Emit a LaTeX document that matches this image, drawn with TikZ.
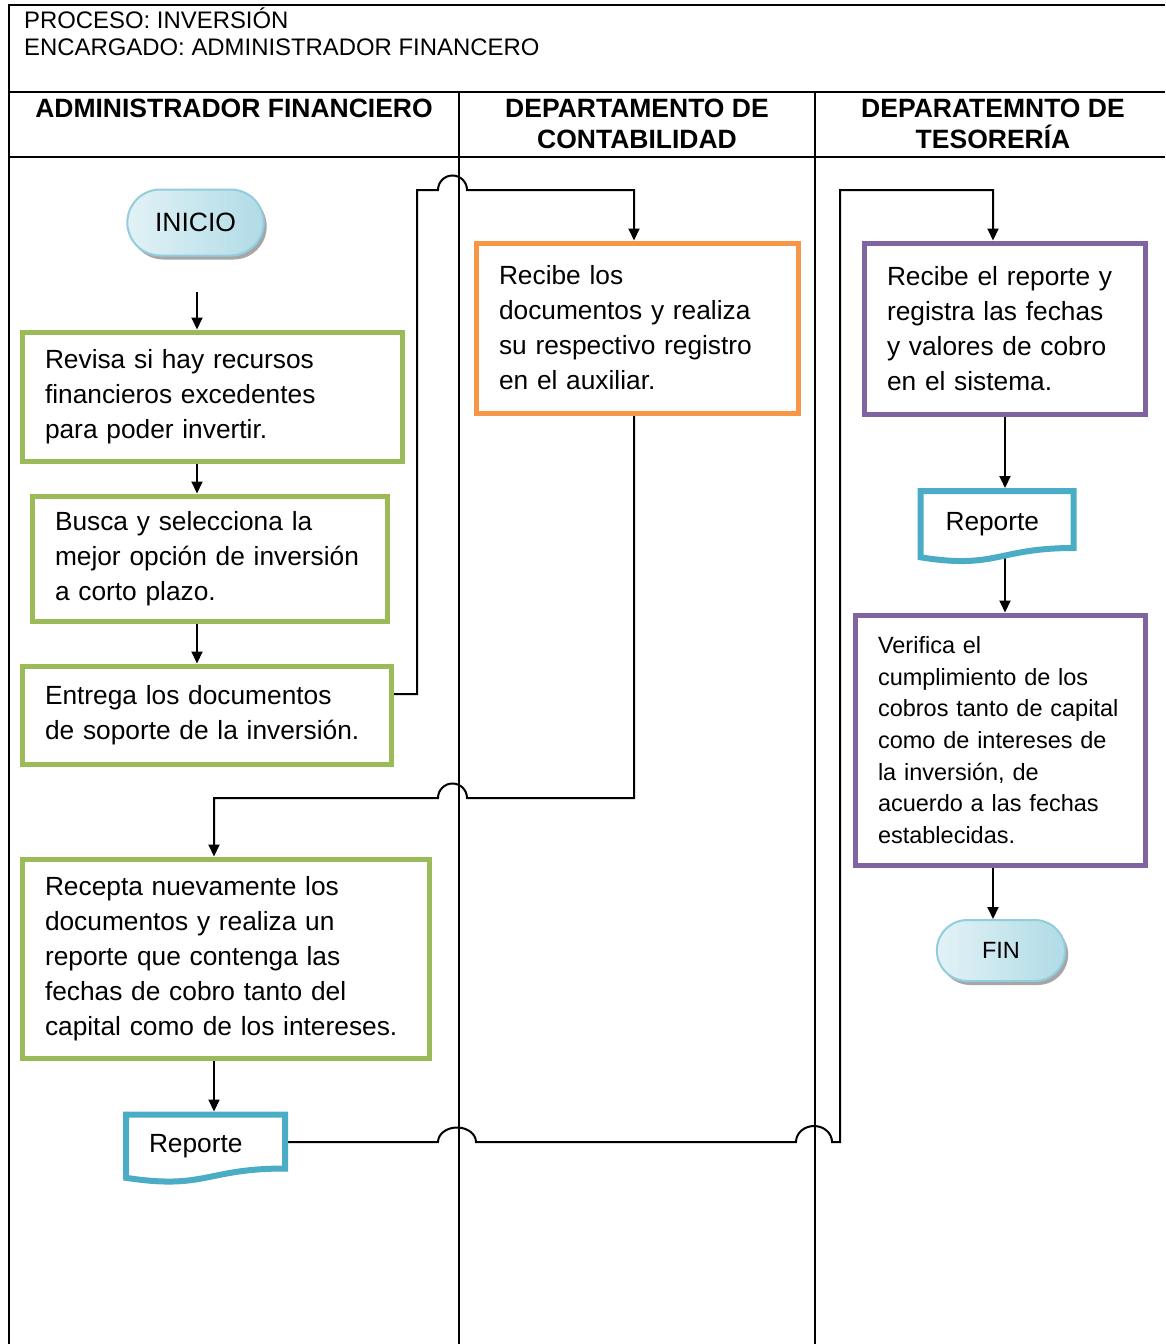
\documentclass[tikz,border=0pt]{standalone}
\usepackage{fontspec}
\setmainfont{Liberation Sans}
\usetikzlibrary{arrows.meta,calc,shapes.misc,shadows}

\definecolor{stepgreen}{HTML}{9BBB59}
\definecolor{steporange}{HTML}{F79646}
\definecolor{steppurple}{HTML}{8064A2}
\definecolor{docblue}{HTML}{4BACC6}
\definecolor{pillline}{HTML}{93CDDD}
\definecolor{pilllight}{HTML}{E2F2F6}
\definecolor{pilldark}{HTML}{B0DBE6}

\newcommand\bodyfont{\fontsize{26.3}{35}\selectfont\hyphenpenalty=10000 }
\newcommand\smallbody{\fontsize{23.5}{31.7}\selectfont\hyphenpenalty=10000 }
\newcommand\headfont{\fontsize{23.9}{27}\selectfont}
\newcommand\lanefont{\fontsize{26.5}{31}\selectfont\bfseries}

% outline of a document symbol around a text node
\newcommand\docoutline[1]{%
  \draw[doc] (#1.north west) -- (#1.north east) -- (#1.south east)
    .. controls (#1.south) and ($(#1.south)+(0,21.5)$) .. ($(#1.south west)+(0,9.3)$) -- cycle;}

\pgfdeclarelayer{lanes}
\pgfdeclarelayer{links}
\pgfdeclarelayer{docs}
\pgfsetlayers{lanes,links,docs,main}

\begin{document}
\begin{tikzpicture}[x=1pt,y=-1pt,
  frame/.style={line width=2.3pt},
  flow/.style={line width=2pt,-{Triangle[length=12pt,width=11pt]}},
  stepbox/.style={draw=#1, line width=5pt, inner xsep=23pt, inner ysep=0pt,
    align=left, font=\bodyfont},
  pill/.style={rounded rectangle, draw=pillline, line width=2pt,
    left color=pilllight, right color=pilldark,
    drop shadow={shadow xshift=3pt,shadow yshift=-4pt,fill=black!35,opacity=1}},
  docnode/.style={outer sep=0pt, inner xsep=23pt, inner ysep=0pt, align=left,
    font=\bodyfont, text width=#1, text height=24pt, text depth=2.5pt},
  doc/.style={draw=docblue, fill=white, line width=6pt, line join=miter},
  headtext/.style={inner sep=0pt, font=\headfont, anchor=base west},
  lanetext/.style={inner sep=0pt, font=\lanefont, anchor=base},
]

\useasboundingbox (0,0) rectangle (1165,1344);

% page frame and swimlanes
\begin{pgfonlayer}{lanes}
  \draw[frame] (9,1344) -- (9,5) -- (1165,5);
  \draw[frame] (9,92) -- (1165,92);
  \draw[frame] (9,157) -- (1165,157);
  \draw[frame] (459,92) -- (459,1344);
  \draw[frame] (815,92) -- (815,1344);
\end{pgfonlayer}

% header
\node[headtext] (proc) at (24,28) {PROCESO: INVERSIÓN};
\node[headtext] (enc) at (24,55) {ENCARGADO: ADMINISTRADOR FINANCERO};

\node[lanetext] (laneA)  at (234,117.5) {ADMINISTRADOR FINANCIERO};
\node[lanetext] (laneB1) at (637,117.5) {DEPARTAMENTO DE};
\node[lanetext] (laneB2) at (637,148.5) {CONTABILIDAD};
\node[lanetext] (laneC1) at (993,117.5) {DEPARATEMNTO DE};
\node[lanetext] (laneC2) at (993,148.5) {TESORERÍA};

% terminators
\node[pill, minimum width=143pt, minimum height=66pt, font=\fontsize{26.5}{30}\selectfont]
  (inicio) at (195.5,222.5) {INICIO};
\node[pill, minimum width=135pt, minimum height=61pt, font=\fontsize{23.5}{28}\selectfont]
  (fin) at (1001,950.5) {FIN};

% process steps
\node[stepbox=stepgreen, text width=334pt, minimum height=129pt] (revisa) at (212,396.5)
  {Revisa si hay recursos\\financieros excedentes\\para poder invertir.};
\node[stepbox=stepgreen, text width=309pt, minimum height=125pt] (busca) at (209.5,558.5)
  {Busca y selecciona la\\mejor opción de inversión\\a corto plazo.};
\node[stepbox=stepgreen, text width=323pt, minimum height=98pt] (entrega) at (206.5,715)
  {Entrega los documentos\\de soporte de la inversión.};
\node[stepbox=steporange, text width=276pt, minimum height=170pt] (recibe) at (637,328)
  {Recibe los\\documentos y realiza\\su respectivo registro\\en el auxiliar.};
\node[stepbox=stepgreen, text width=361pt, minimum height=199pt] (recepta) at (225.5,958.5)
  {Recepta nuevamente los\\documentos y realiza un\\reporte que contenga las\\fechas de cobro tanto del\\capital como de los intereses.};
\node[stepbox=steppurple, text width=235pt, minimum height=171pt] (registra) at (1004.5,328.5)
  {Recibe el reporte y\\registra las fechas\\y valores de cobro\\en el sistema.};
\node[stepbox=steppurple, text width=244pt, minimum height=250pt, font=\smallbody] (verifica) at (1000,740)
  {Verifica el\\cumplimiento de los\\cobros tanto de capital\\como de intereses de\\la inversión, de\\acuerdo a las fechas\\establecidas.};

% documents
\node[docnode=113pt, minimum height=54pt] (rep1) at (205.5,1141.5) {Reporte};
\node[docnode=103pt, minimum height=57pt, inner xsep=25pt] (rep2) at (997,519.5) {Reporte};
\begin{pgfonlayer}{docs}
  \docoutline{rep1}
  \docoutline{rep2}
\end{pgfonlayer}

% connectors
\begin{pgfonlayer}{links}
  \coordinate (colA) at (197,292);
  \draw[flow] (colA) -- (colA |- revisa.north);
  \draw[flow] (revisa.south -| colA) -- (colA |- busca.north);
  \draw[flow] (busca.south -| colA) -- (colA |- entrega.north);

  \coordinate (e1) at (417,694);
  \coordinate (e2) at (417,190);
  \coordinate (e3) at (634,190);
  \draw[flow] (entrega.east |- e1) -- (e1) -- (e2) -- (438,190)
    arc[start angle=180, end angle=0, x radius=14.5pt, y radius=14.5pt]
    -- (e3) -- (e3 |- recibe.north);

  \coordinate (r1) at (634,798);
  \coordinate (r2) at (214,798);
  \draw[flow] (recibe.south -| r1) -- (r1) -- (467,798)
    arc[start angle=0, end angle=180, x radius=14.5pt, y radius=14.5pt]
    -- (r2) -- (r2 |- recepta.north);

  \draw[flow, shorten >=3pt] (recepta.south -| r2) -- (r2 |- rep1.north);

  \coordinate (t1) at (840,1142);
  \coordinate (t2) at (840,190);
  \coordinate (t3) at (993,190);
  \draw[flow] (rep1.east |- t1) -- (438,1142)
    arc[start angle=180, end angle=0, x radius=19pt, y radius=14.5pt]
    -- (796,1142)
    arc[start angle=180, end angle=0, x radius=18pt, y radius=16pt]
    -- (t1) -- (t2) -- (t3) -- (t3 |- registra.north);

  \coordinate (v1) at (1005,0);
  \draw[flow, shorten >=3pt] (registra.south -| v1) -- (v1 |- rep2.north);
  \draw[flow] (v1 |- rep2.south) -- (v1 |- verifica.north);

  \coordinate (w1) at (993,0);
  \draw[flow] (verifica.south -| w1) -- (w1 |- fin.north);
\end{pgfonlayer}

\end{tikzpicture}
\end{document}
